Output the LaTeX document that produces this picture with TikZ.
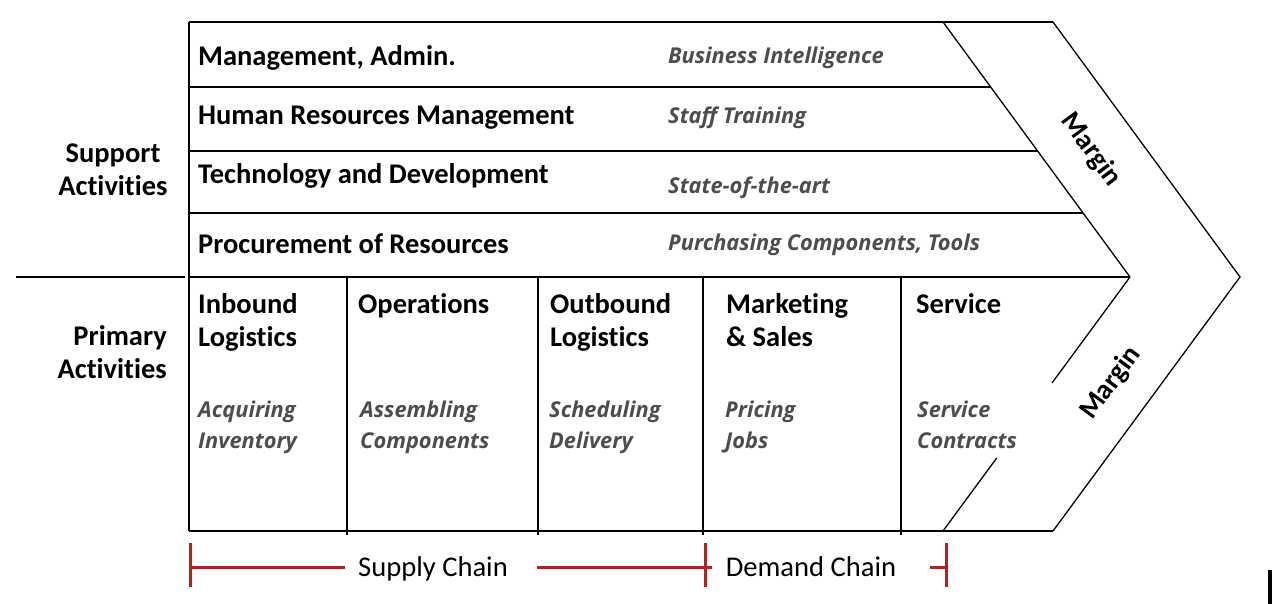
\documentclass[tikz,border=0pt]{standalone}
\usepackage{fontspec}
\setmainfont[Ligatures=NoCommon]{Carlito}
\newfontfamily\itfont{Open Sans}
\definecolor{redline}{RGB}{178,34,34}
\definecolor{itgray}{RGB}{77,77,77}
\begin{document}
\begin{tikzpicture}[x=1pt,y=-1pt,
  bold/.style={inner sep=0pt,anchor=base west,font=\fontsize{28.5}{33}\selectfont\bfseries},
  ital/.style={inner sep=0pt,anchor=base west,text=itgray,font=\fontsize{21.8}{31}\selectfont\itfont\bfseries\itshape},
  side/.style={inner sep=0pt,font=\fontsize{28.5}{33}\selectfont\bfseries},
  chain/.style={inner sep=0pt,anchor=base,font=\fontsize{28.6}{33}\selectfont},
  marg/.style={inner sep=0pt,font=\fontsize{28}{30}\selectfont\bfseries},
  frame/.style={line width=1.3pt,black},
  hline/.style={line width=1.7pt,black},
  bracket/.style={line width=3pt,redline}]
\useasboundingbox (0,0) rectangle (1272,604);
\fill[white] (0,0) rectangle (1272,604);
% frame
\coordinate (tl) at (189,22);
\coordinate (bl) at (189,531);
\coordinate (tr) at (1053,22);
\coordinate (br) at (1053,531);
\coordinate (itop) at (943,22);
\coordinate (tip) at (1130,277);
\coordinate (otip) at (1240,277);
\coordinate (ibot) at (943,531);
\draw[hline] (tl) -- (tr);
\draw[hline] (bl) -- (br);
\draw[frame] (tl) -- (bl);
\draw[frame] (itop) -- (tip);
\draw[frame] (tr) -- (otip) -- (br);
\draw[frame] (tip) -- (1052,383);
\draw[frame] (996.7,458) -- (ibot);
% support rows
\draw[hline] (189,87) -- (990.7,87);
\draw[hline] (189,151) -- (1037.6,151);
\draw[hline] (189,213) -- (1083,213);
\draw[hline] (189,277) -- (tip);
\draw[hline] (16,277) -- (185,277);
% primary dividers
\foreach \x in {347,538,703,901} \draw[frame] (\x,277) -- (\x,535);
% texts support
\node[bold] (mgmt) at (198,66) {Management, Admin.};
\node[bold] (hr) at (198,125) {Human Resources Management};
\node[bold] (tech) at (198,184) {Technology and Development};
\node[bold] (proc) at (198,254) {Procurement of Resources};
\node[ital] (bi) at (668,64) {Business Intelligence};
\node[ital] (st) at (668,124) {Staff Training};
\node[ital] (sa) at (668,194) {State-of-the-art};
\node[ital] (pc) at (668,251) {Purchasing Components, Tools};
% side labels
\node[side,align=center] (sup) at (113,170) {Support\\Activities};
\node[side,align=right,anchor=east] (pri) at (167,352) {Primary\\Activities};
% primary
\node[bold] (in1) at (198,313) {Inbound};
\node[bold] (in2) at (198,346) {Logistics};
\node[bold] (op1) at (358,313) {Operations};
\node[bold] (ob1) at (550,313) {Outbound};
\node[bold] (ob2) at (550,346) {Logistics};
\node[bold] (ms1) at (726,313) {Marketing};
\node[bold] (ms2) at (726,346) {\& Sales};
\node[bold] (sv1) at (916,313) {Service};
\node[ital] (a1) at (198,417) {Acquiring};
\node[ital] (a2) at (198,448) {Inventory};
\node[ital] (b1) at (360,417) {Assembling};
\node[ital] (b2) at (360,448) {Components};
\node[ital] (c1) at (549,417) {Scheduling};
\node[ital] (c2) at (549,448) {Delivery};
\node[ital] (d1) at (725,417) {Pricing};
\node[ital] (d2) at (725,448) {Jobs};
\node[ital] (e1) at (917,417) {Service};
\node[ital] (e2) at (917,448) {Contracts};
% margins
\node[marg,rotate=-53.6] (m1) at (1091,150) {Margin};
\node[marg,rotate=53.6] (m2) at (1111,383) {Margin};
% chains
\node[chain] (sc) at (433,576) {Supply Chain};
\node[chain] (dc) at (811,576) {Demand Chain};
\coordinate (k1t) at (190,543); \coordinate (k1b) at (190,587);
\coordinate (k2t) at (705,543); \coordinate (k2b) at (705,587);
\coordinate (k3t) at (946,543); \coordinate (k3b) at (946,587);
\draw[bracket] (k1t) -- (k1b);
\draw[bracket] (k2t) -- (k2b);
\draw[bracket] (k3t) -- (k3b);
\draw[bracket] (190,567) -- (345,567);
\draw[bracket] (537,567) -- (712,567);
\draw[bracket] (930,567) -- (946,567);
% cursor bar
\fill[black] (1268,570) rectangle (1272,604);
\end{tikzpicture}
\end{document}
